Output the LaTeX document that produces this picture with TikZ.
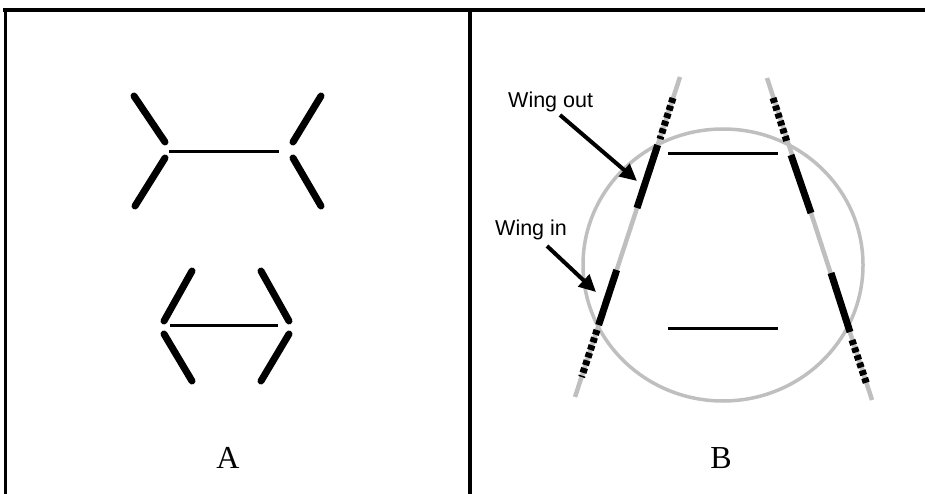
\documentclass[tikz,border=0pt]{standalone}
\usepackage{fontspec}
\setmainfont{Liberation Serif}
\newfontfamily\arialfont{Liberation Sans}
\usetikzlibrary{arrows.meta}
\begin{document}
\begin{tikzpicture}[x=1pt,y=-1pt,
  frame/.style={line width=#1,black},
  arm/.style={line width=7pt,line cap=round,black},
  bar/.style={line width=3pt,black},
  rail/.style={line width=4.5pt,color=black!25},
  solidseg/.style={line width=7pt,black},
  dotseg/.style={line width=7pt,black,dash pattern=on 5pt off 3pt},
  ring/.style={line width=3.5pt,color=black!25},
  pointer/.style={line width=4pt,black,-{Triangle[length=17pt,width=16pt]}},
  wlabel/.style={font=\arialfont\fontsize{21.5}{21.5}\selectfont,anchor=base west,inner sep=0pt},
  plabel/.style={font=\fontsize{32}{32}\selectfont,anchor=base,inner sep=0pt}]
\useasboundingbox (0,0) rectangle (925,494);
% frame
\draw[frame=4pt] (3,10) -- (925,10);
\draw[frame=2.7pt] (5.5,9) -- (5.5,494);
\draw[frame=4pt] (470.3,10) -- (470.3,494);
% ---- Panel A, top figure
\coordinate (a1) at (134,96); \coordinate (a2) at (165,142);
\coordinate (a3) at (165,158); \coordinate (a4) at (135,206);
\coordinate (a5) at (321,96); \coordinate (a6) at (293,142);
\coordinate (a7) at (293,158); \coordinate (a8) at (321,206);
\draw[arm] (a1) -- (a2);
\draw[arm] (a3) -- (a4);
\draw[arm] (a5) -- (a6);
\draw[arm] (a7) -- (a8);
\coordinate (h1) at (169,152); \coordinate (h2) at (279,152);
\draw[bar] (h1) -- (h2);
% ---- Panel A, bottom figure
\coordinate (b1) at (192,271); \coordinate (b2) at (164,321);
\coordinate (b3) at (164,334); \coordinate (b4) at (192,381);
\coordinate (b5) at (261,271); \coordinate (b6) at (289,321);
\coordinate (b7) at (289,334); \coordinate (b8) at (261,381);
\draw[arm] (b1) -- (b2);
\draw[arm] (b3) -- (b4);
\draw[arm] (b5) -- (b6);
\draw[arm] (b7) -- (b8);
\coordinate (g1) at (170,325); \coordinate (g2) at (278,325);
\draw[bar] (g1) -- (g2);
\node[plabel] (labA) at (228,468) {A};
% ---- Panel B
\coordinate (cc) at (723,265);
\draw[ring] (cc) circle[x radius=140pt,y radius=136pt];
% left rail
\coordinate (L0) at (680,77); \coordinate (L9) at (575,397);
\draw[rail] (L0) -- (L9);
\draw[dotseg] (673,98) -- (660,139);
\draw[solidseg] (657.7,145) -- (637,208);
\draw[solidseg] (616.7,270) -- (598.6,325);
\draw[dotseg] (597,330) -- (581.6,377);
% right rail
\coordinate (R0) at (767,78); \coordinate (R9) at (872,400);
\draw[rail] (R0) -- (R9);
\draw[dotseg] (773,98) -- (787,142);
\draw[solidseg] (791,155) -- (811,213);
\draw[solidseg] (831,273) -- (850,332);
\draw[dotseg] (852,340) -- (867,385);
% rungs
\coordinate (t1) at (668,154); \coordinate (t2) at (778,154);
\draw[bar] (t1) -- (t2);
\coordinate (u1) at (668,328); \coordinate (u2) at (778,328);
\draw[bar] (u1) -- (u2);
% labels and pointers
\node[wlabel] (wout) at (508,108) {Wing out};
\node[wlabel] (win) at (495,236) {Wing in};
\coordinate (woutS) at (560,115); \coordinate (woutT) at (637,181);
\coordinate (winS) at (547,246); \coordinate (winT) at (596,292);
\draw[pointer] (woutS) -- (woutT);
\draw[pointer] (winS) -- (winT);
\node[plabel] (labB) at (721,468) {B};
\end{tikzpicture}
\end{document}
